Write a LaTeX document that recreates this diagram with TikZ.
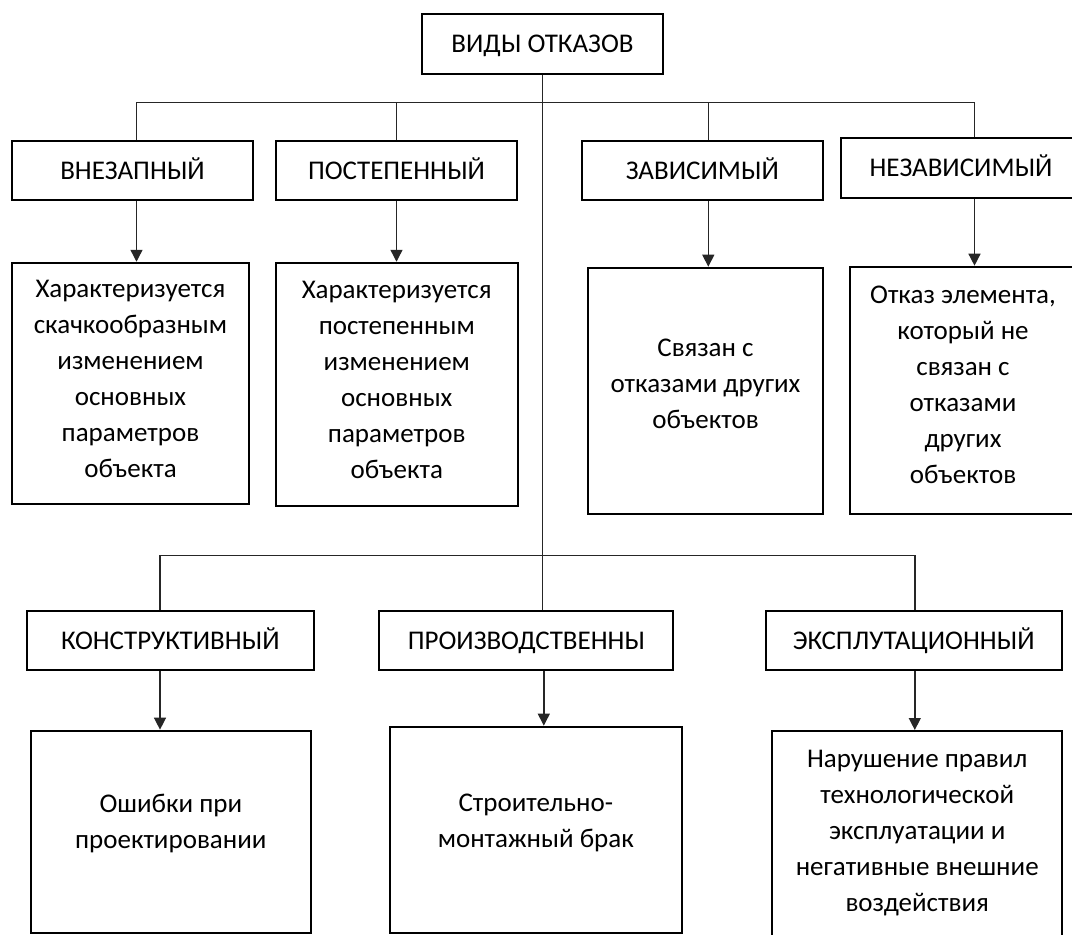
\documentclass[tikz,border=0pt]{standalone}
\usepackage{fontspec}
\setmainfont{Carlito}
\usetikzlibrary{arrows.meta}
\tikzset{
  box/.style={draw=black, line width=2pt, rectangle, align=center, inner sep=0pt,
    font=\fontsize{27}{36}\selectfont, text height=17.4pt, text depth=0pt},
  panel/.style={draw=black, line width=2pt, rectangle, inner sep=0pt},
  ptext/.style={align=center, inner sep=0pt, font=\fontsize{27}{36}\selectfont},
  conn/.style={draw=black!85, line width=1.4pt},
  arr/.style={conn, -{Triangle[width=12pt,length=12pt]}}
}
\begin{document}
\begin{tikzpicture}[x=1pt,y=-1pt]
\useasboundingbox (0,0) rectangle (1072,935);
\clip (0,0) rectangle (1072,935);
% column coordinates
\coordinate (bus1) at (542.5,102.7);
\coordinate (bus2) at (542.5,555.5);
\coordinate (c1) at (136.5,0);
\coordinate (c2) at (396.5,0);
\coordinate (c3) at (708.3,0);
\coordinate (c4) at (974.5,0);
\coordinate (k1) at (160,0);
\coordinate (k2) at (543.8,0);
\coordinate (k3) at (914.8,0);
% heading boxes
\node[box, minimum width=241pt, minimum height=59.5pt] (root) at (542.5,43.75) {ВИДЫ ОТКАЗОВ};
\node[box, minimum width=241pt, minimum height=59.3pt] (vnez) at (132.5,170.4) {ВНЕЗАПНЫЙ};
\node[box, minimum width=241pt, minimum height=59.3pt] (postep) at (396.5,170.4) {ПОСТЕПЕННЫЙ};
\node[box, minimum width=240.7pt, minimum height=59.3pt] (zav) at (702.3,170.4) {ЗАВИСИМЫЙ};
\node[box, minimum width=241pt, minimum height=59.7pt] (nezav) at (961,167.9) {НЕЗАВИСИМЫЙ};
\node[box, minimum width=287.3pt, minimum height=59.3pt] (konstr) at (170.3,640.4) {КОНСТРУКТИВНЫЙ};
\node[box, minimum width=294pt, minimum height=59.3pt] (proizv) at (526.4,640.4) {ПРОИЗВОДСТВЕННЫ};
\node[box, minimum width=296pt, minimum height=59.3pt] (expl) at (913.7,640.4) {ЭКСПЛУТАЦИОННЫЙ};
% detail panels
\node[panel, minimum width=237pt, minimum height=241.3pt,
  label={[ptext, yshift=4pt]center:{Характеризуется\\скачкообразным\\изменением\\основных\\параметров\\объекта}}]
  (det1) at (130.5,383.4) {};
\node[panel, minimum width=241.5pt, minimum height=243.3pt,
  label={[ptext, yshift=4pt]center:{Характеризуется\\постепенным\\изменением\\основных\\параметров\\объекта}}]
  (det2) at (396.75,384.4) {};
\node[panel, minimum width=235pt, minimum height=245.8pt,
  label={[ptext, yshift=7pt]center:{Связан с\\отказами других\\объектов}}]
  (det3) at (705.5,390.6) {};
\node[panel, minimum width=226pt, minimum height=246.8pt,
  label={[ptext, yshift=5pt]center:{Отказ элемента,\\который не\\связан с\\отказами\\других\\объектов}}]
  (det4) at (963,390.1) {};
\node[panel, minimum width=280.3pt, minimum height=202.3pt,
  label={[ptext, yshift=8pt]center:{Ошибки при\\проектировании}}]
  (kdet) at (170.8,831.8) {};
\node[panel, minimum width=291.7pt, minimum height=206.3pt,
  label={[ptext, yshift=7pt]center:{Строительно-\\монтажный брак}}]
  (pdet) at (535.8,829.8) {};
\node[panel, minimum width=289.5pt, minimum height=220pt,
  label={[ptext, yshift=8pt]center:{Нарушение правил\\технологической\\эксплуатации и\\негативные внешние\\воздействия}}]
  (edet) at (917.2,841) {};
% upper bus
\draw[conn] (root.south) -- (root.south |- konstr.north);
\draw[conn] (c1 |- vnez.north) |- (bus1) -| (c4 |- nezav.north);
\draw[conn] (c2 |- bus1) -- (c2 |- postep.north);
\draw[conn] (c3 |- bus1) -- (c3 |- zav.north);
% arrows to details
\draw[arr] (c1 |- vnez.south) -- (c1 |- det1.north);
\draw[arr] (c2 |- postep.south) -- (c2 |- det2.north);
\draw[arr] (c3 |- zav.south) -- (c3 |- det3.north);
\draw[arr] (c4 |- nezav.south) -- (c4 |- det4.north);
% lower bus
\draw[conn] (k1 |- konstr.north) |- (bus2) -| (k3 |- expl.north);
\draw[arr] (k1 |- konstr.south) -- (k1 |- kdet.north);
\draw[arr] (k2 |- proizv.south) -- (k2 |- pdet.north);
\draw[arr] (k3 |- expl.south) -- (k3 |- edet.north);
\end{tikzpicture}
\end{document}
